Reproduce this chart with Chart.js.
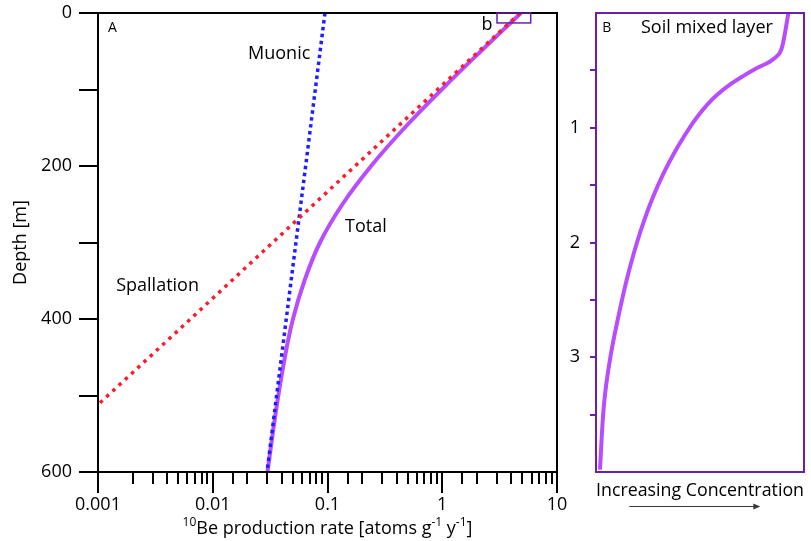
<!DOCTYPE html>
<html>
<head>
<meta charset="utf-8">
<script src="https://cdn.jsdelivr.net/npm/chart.js@4.4.1/dist/chart.umd.min.js"></script>
<style>
  html, body { margin: 0; padding: 0; background: #fff; }
  #wrap { position: relative; width: 811px; height: 541px; overflow: hidden; }
  #wrapA { position: absolute; left: 0; top: 0; width: 570px; height: 541px; }
  #wrapB { position: absolute; left: 550px; top: 0; width: 261px; height: 541px; }
</style>
</head>
<body>
<div id="wrap">
  <div id="wrapA"><canvas id="chartA"></canvas></div>
  <div id="wrapB"><canvas id="chartB"></canvas></div>
</div>
<script>
// Panel A: 10Be production rate vs depth (m)
const depthTotal = [0, 50, 100, 150, 200, 250, 300, 350, 400, 450, 500, 550, 600];
const totalRate = [4.85, 2.17, 0.99, 0.47, 0.24, 0.135, 0.086, 0.063, 0.050, 0.0425, 0.0373, 0.0333, 0.030];

const depthSpall = [0, 100, 200, 300, 400, 512];
const spallRate = [4.76, 0.91, 0.174, 0.0333, 0.0064, 0.001];

const depthMuon = [0, 200, 400, 600];
const muonRate = [0.095, 0.0645, 0.0437, 0.0297];

// Panel B: concentration profile in the soil mixed layer
const depthB = [0, 0.2, 0.3, 0.36, 0.42, 0.48, 0.55, 0.62, 0.71, 0.8, 0.9, 1.0, 1.2, 1.4, 1.6, 1.8, 2.0, 2.3, 2.6, 3.0, 3.4, 3.98];
const concB = [0.925, 0.906, 0.894, 0.879, 0.839, 0.774, 0.707, 0.647, 0.584, 0.534, 0.489, 0.450, 0.382, 0.324, 0.275, 0.233, 0.197, 0.151, 0.113, 0.069, 0.039, 0.019];

const depthLabelsA = [0, 200, 400, 600];
const depthLabelsB = [1, 2, 3];

const PURPLE = '#b84cff';
const FRAME_PURPLE = '#6a1fb0';
const RED = '#ff1a2c';
const BLUE = '#1e1eff';
const FONT = "'Open Sans', sans-serif";

Chart.defaults.font.family = FONT;
Chart.defaults.color = '#000';

const toXY = (xs, ys) => xs.map((x, i) => ({ x, y: ys[i] }));
const isDecade = v => Math.abs(Math.log10(v) - Math.round(Math.log10(v))) < 1e-6;
const noPadX = s => { s.paddingLeft = 0; s.paddingRight = 0; };
const noPadY = s => { s.paddingTop = 0; s.paddingBottom = 0; };

// text notes in data units
const notesA = [
  { text: 'A', x: 0.00122, y: 19, size: 14 },
  { text: 'Muonic', x: 0.0203, y: 54, size: 18 },
  { text: 'Spallation', x: 0.00144, y: 357, size: 18 },
  { text: 'Total', x: 0.142, y: 280, size: 18 },
  { text: 'b', x: 2.2, y: 15, size: 18 }
];
const insetBox = { x0: 3.0, x1: 5.9, y0: 0, y1: 13 };
const notesB = [
  { text: 'B', x: 0.03, y: 0.13, size: 14 },
  { text: 'Soil mixed layer', x: 0.216, y: 0.13, size: 18 }
];

const titleParts = [
  { t: '10', sup: true },
  { t: 'Be production rate [atoms g' },
  { t: '-1', sup: true },
  { t: ' y' },
  { t: '-1', sup: true },
  { t: ']' }
];

const frameA = {
  id: 'frameA',
  afterDraw(chart) {
    const { ctx, chartArea: a, scales: { x, y } } = chart;
    ctx.save();
    ctx.strokeStyle = '#000';
    ctx.lineWidth = 2;
    ctx.strokeRect(a.left, a.top, a.right - a.left, a.bottom - a.top);

    // longer ticks at each decade
    x.ticks.forEach(t => {
      if (!isDecade(t.value)) return;
      const px = Math.round(x.getPixelForValue(t.value));
      ctx.beginPath();
      ctx.moveTo(px, a.bottom);
      ctx.lineTo(px, a.bottom + 21);
      ctx.stroke();
    });

    // inset marker "b"
    ctx.strokeStyle = FRAME_PURPLE;
    ctx.lineWidth = 1.5;
    const bx0 = x.getPixelForValue(insetBox.x0), bx1 = x.getPixelForValue(insetBox.x1);
    const by0 = y.getPixelForValue(insetBox.y0), by1 = y.getPixelForValue(insetBox.y1);
    ctx.strokeRect(bx0, by0, bx1 - bx0, by1 - by0);

    ctx.fillStyle = '#000';
    ctx.textBaseline = 'middle';
    ctx.textAlign = 'left';
    notesA.forEach(n => {
      ctx.font = `${n.size}px ${FONT}`;
      ctx.fillText(n.text, x.getPixelForValue(n.x), y.getPixelForValue(n.y));
    });

    // x title with superscripts
    ctx.textBaseline = 'alphabetic';
    const big = `18px ${FONT}`, small = `12px ${FONT}`;
    let w = 0;
    titleParts.forEach(p => { ctx.font = p.sup ? small : big; w += ctx.measureText(p.t).width; });
    let cx = (a.left + a.right) / 2 - w / 2;
    const base = 534;
    titleParts.forEach(p => {
      ctx.font = p.sup ? small : big;
      ctx.fillText(p.t, cx, p.sup ? base - 8 : base);
      cx += ctx.measureText(p.t).width;
    });
    ctx.restore();
  }
};

new Chart(document.getElementById('chartA'), {
  type: 'scatter',
  data: {
    datasets: [
      {
        label: 'Spallation',
        data: toXY(spallRate, depthSpall),
        showLine: true,
        borderColor: RED,
        borderWidth: 3.5,
        borderDash: [3.5, 5],
        pointRadius: 0,
        tension: 0
      },
      {
        label: 'Muonic',
        data: toXY(muonRate, depthMuon),
        showLine: true,
        borderColor: BLUE,
        borderWidth: 3.5,
        borderDash: [3.5, 3.5],
        pointRadius: 0,
        tension: 0
      },
      {
        label: 'Total',
        data: toXY(totalRate, depthTotal),
        showLine: true,
        borderColor: PURPLE,
        borderWidth: 4,
        pointRadius: 0,
        tension: 0.4
      }
    ]
  },
  options: {
    responsive: true,
    maintainAspectRatio: false,
    animation: false,
    layout: { padding: { left: 0, top: 13, right: 13, bottom: 0 } },
    plugins: { legend: { display: false }, tooltip: { enabled: false } },
    scales: {
      x: {
        type: 'logarithmic',
        position: 'bottom',
        min: 0.001,
        max: 10,
        afterFit: s => { s.height = 69; noPadX(s); },
        border: { display: false },
        grid: { drawOnChartArea: false, tickLength: 12, color: '#000', lineWidth: 2 },
        ticks: {
          autoSkip: false,
          maxRotation: 0,
          padding: 10,
          font: { size: 18 },
          callback: v => {
            if (!isDecade(v)) return '';
            const e = Math.round(Math.log10(v));
            return e < 0 ? Math.pow(10, e).toFixed(-e) : String(Math.pow(10, e));
          }
        }
      },
      y: {
        type: 'linear',
        position: 'left',
        min: 0,
        max: 600,
        reverse: true,
        afterFit: s => { s.width = 98; noPadY(s); },
        border: { display: false },
        grid: { drawOnChartArea: false, tickLength: 19, color: '#000', lineWidth: 2 },
        ticks: {
          stepSize: 100,
          padding: 7,
          font: { size: 18 },
          callback: v => depthLabelsA.includes(v) ? String(v) : ''
        },
        title: { display: true, text: 'Depth [m]', font: { size: 18 }, padding: { top: 10, bottom: 0 } }
      }
    }
  },
  plugins: [frameA]
});

const frameB = {
  id: 'frameB',
  afterDraw(chart) {
    const { ctx, chartArea: a, scales: { x, y } } = chart;
    ctx.save();
    ctx.strokeStyle = FRAME_PURPLE;
    ctx.lineWidth = 2;
    ctx.strokeRect(a.left, a.top, a.right - a.left, a.bottom - a.top);

    ctx.fillStyle = '#000';
    ctx.textBaseline = 'middle';
    notesB.forEach(n => {
      ctx.font = `${n.size}px ${FONT}`;
      ctx.fillText(n.text, x.getPixelForValue(n.x), y.getPixelForValue(n.y));
    });

    // arrow under the axis title
    const x0 = a.left + 0.16 * (a.right - a.left);
    const x1 = a.left + 0.79 * (a.right - a.left);
    const ay = 506.5;
    ctx.strokeStyle = '#3a3a3a';
    ctx.fillStyle = '#3a3a3a';
    ctx.lineWidth = 1.2;
    ctx.beginPath();
    ctx.moveTo(x0, ay);
    ctx.lineTo(x1 - 5, ay);
    ctx.stroke();
    ctx.beginPath();
    ctx.moveTo(x1, ay);
    ctx.lineTo(x1 - 7, ay - 3);
    ctx.lineTo(x1 - 7, ay + 3);
    ctx.closePath();
    ctx.fill();
    ctx.restore();
  }
};

new Chart(document.getElementById('chartB'), {
  type: 'scatter',
  data: {
    datasets: [{
      label: 'Concentration',
      data: toXY(concB, depthB),
      showLine: true,
      borderColor: PURPLE,
      borderWidth: 4,
      pointRadius: 0,
      tension: 0.4
    }]
  },
  options: {
    responsive: true,
    maintainAspectRatio: false,
    animation: false,
    layout: { padding: { left: 0, top: 13, right: 7, bottom: 0 } },
    plugins: { legend: { display: false }, tooltip: { enabled: false } },
    scales: {
      x: {
        type: 'linear',
        min: 0,
        max: 1,
        afterFit: s => { s.height = 69; noPadX(s); },
        border: { display: false },
        grid: { display: false },
        ticks: { display: false },
        title: {
          display: true,
          text: 'Increasing Concentration',
          font: { size: 18 },
          padding: { top: 0, bottom: 39 }
        }
      },
      y: {
        type: 'linear',
        min: 0,
        max: 4,
        reverse: true,
        afterFit: s => { s.width = 46; noPadY(s); },
        border: { display: false },
        grid: {
          drawOnChartArea: false,
          tickLength: 6,
          lineWidth: 2,
          color: c => (c.tick && (c.tick.value === 0 || c.tick.value === 4)) ? 'rgba(0,0,0,0)' : FRAME_PURPLE
        },
        ticks: {
          stepSize: 0.5,
          padding: 10,
          font: { size: 18 },
          callback: v => depthLabelsB.includes(v) ? String(v) : ''
        }
      }
    }
  },
  plugins: [frameB]
});
</script>
</body>
</html>
